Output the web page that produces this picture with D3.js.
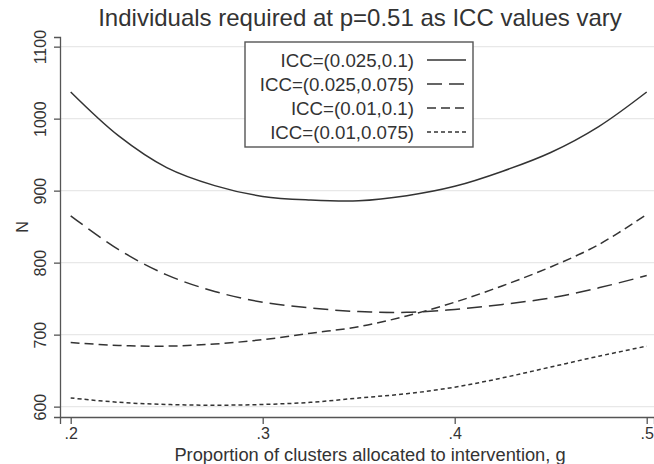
<!DOCTYPE html>
<html>
<head>
<meta charset="utf-8">
<script src="https://cdn.jsdelivr.net/npm/d3@7"></script>
<style>
  html, body { margin: 0; padding: 0; background: #fff; }
  svg { display: block; font-family: "Liberation Sans", Arial, sans-serif; }
</style>
</head>
<body>
<svg id="chart" width="654" height="464"></svg>
<script>
// ---- data ----
const gValues = [0.2, 0.225, 0.25, 0.275, 0.3, 0.325, 0.35, 0.375, 0.4, 0.425, 0.45, 0.475, 0.5];
const seriesNames = ["ICC=(0.025,0.1)", "ICC=(0.025,0.075)", "ICC=(0.01,0.1)", "ICC=(0.01,0.075)"];
const icc025_010 = [1037, 976, 932, 907, 892, 887, 886, 893, 906, 927, 953, 989, 1037];
const icc025_075 = [865, 818, 783, 760, 745, 737, 732, 731, 735, 742, 751, 765, 782];
const icc010_010 = [689, 685, 684, 687, 693, 702, 711, 726, 745, 768, 794, 825, 867];
const icc010_075 = [612, 606, 603, 602, 603, 606, 612, 618, 627, 640, 655, 670, 684];
const xTicks = [0.2, 0.3, 0.4, 0.5];
const xTickLabels = [".2", ".3", ".4", ".5"];
const yTicks = [600, 700, 800, 900, 1000, 1100];
const titleText = "Individuals required at p=0.51 as ICC values vary";
const xTitle = "Proportion of clusters allocated to intervention, g";
const yTitle = "N";

const seriesValues = [icc025_010, icc025_075, icc010_010, icc010_075];
const dashes = [null, "15,7", "9,5", "4,3"];

// ---- layout ----
(function () {
const svg = d3.select("#chart");
const pl = 60, pr = 654, pt = 37, pb = 417;
const x = d3.scaleLinear().domain([0.19443, 0.5038]).range([pl, pr]);
const y = d3.scaleLinear().domain([585.6, 1113.4]).range([pb, pt]);
const ink = "#333";

// gridlines
svg.append("g").selectAll("line").data(yTicks).join("line")
  .attr("x1", pl).attr("x2", pr)
  .attr("y1", d => y(d)).attr("y2", d => y(d))
  .attr("stroke", "#e8e8e8").attr("stroke-width", 1.2);

// axes
const yAxis = d3.axisLeft(y).tickValues(yTicks).tickSize(6).tickPadding(8)
  .tickFormat(d3.format("d"));
const gy = svg.append("g").attr("transform", `translate(${pl},0)`).call(yAxis);
gy.select(".domain").attr("stroke", "#555").attr("stroke-width", 1.3);
gy.selectAll(".tick line").attr("stroke", "#555").attr("stroke-width", 1.3);
gy.selectAll(".tick text")
  .attr("font-size", 16).attr("fill", ink)
  .attr("text-anchor", "middle")
  .attr("transform", "rotate(-90)")
  .attr("x", 0).attr("y", -14).attr("dy", 0);

const xAxis = d3.axisBottom(x).tickValues(xTicks).tickSize(7).tickPadding(4)
  .tickFormat((d, i) => xTickLabels[i]);
const gx = svg.append("g").attr("transform", `translate(0,${pb})`).call(xAxis);
gx.select(".domain").attr("stroke", "#555").attr("stroke-width", 1.3);
gx.selectAll(".tick line").attr("stroke", "#555").attr("stroke-width", 1.3);
gx.selectAll(".tick text").attr("font-size", 16).attr("fill", ink);

// titles
svg.append("text").attr("x", 360).attr("y", 26).attr("text-anchor", "middle")
  .attr("font-size", 24).attr("fill", ink).text(titleText);
svg.append("text").attr("x", 370).attr("y", 460.5).attr("text-anchor", "middle")
  .attr("font-size", 18.3).attr("fill", ink).text(xTitle);
svg.append("text").attr("transform", `translate(28,227) rotate(-90)`)
  .attr("text-anchor", "middle").attr("font-size", 16).attr("fill", ink).text(yTitle);

// lines
const line = d3.line().x((d, i) => x(gValues[i])).y(d => y(d)).curve(d3.curveCatmullRom.alpha(0.5));
seriesValues.forEach((vals, k) => {
  svg.append("path").datum(vals)
    .attr("d", line)
    .attr("fill", "none").attr("stroke", ink).attr("stroke-width", 1.5)
    .attr("stroke-dasharray", dashes[k]);
});

// legend
const lg = svg.append("g");
lg.append("rect").attr("x", 245).attr("y", 42).attr("width", 228).attr("height", 105)
  .attr("fill", "#fff").attr("stroke", "#555").attr("stroke-width", 1.4);
const rowY = [60, 84, 108, 132];
seriesNames.forEach((name, k) => {
  lg.append("text").attr("x", 414).attr("y", rowY[k] + 6.5).attr("text-anchor", "end")
    .attr("font-size", 18.7).attr("fill", ink).text(name);
  lg.append("line").attr("x1", 427).attr("x2", 466)
    .attr("y1", rowY[k]).attr("y2", rowY[k])
    .attr("stroke", ink).attr("stroke-width", 1.5)
    .attr("stroke-dasharray", dashes[k]);
});
})();
</script>
</body>
</html>
